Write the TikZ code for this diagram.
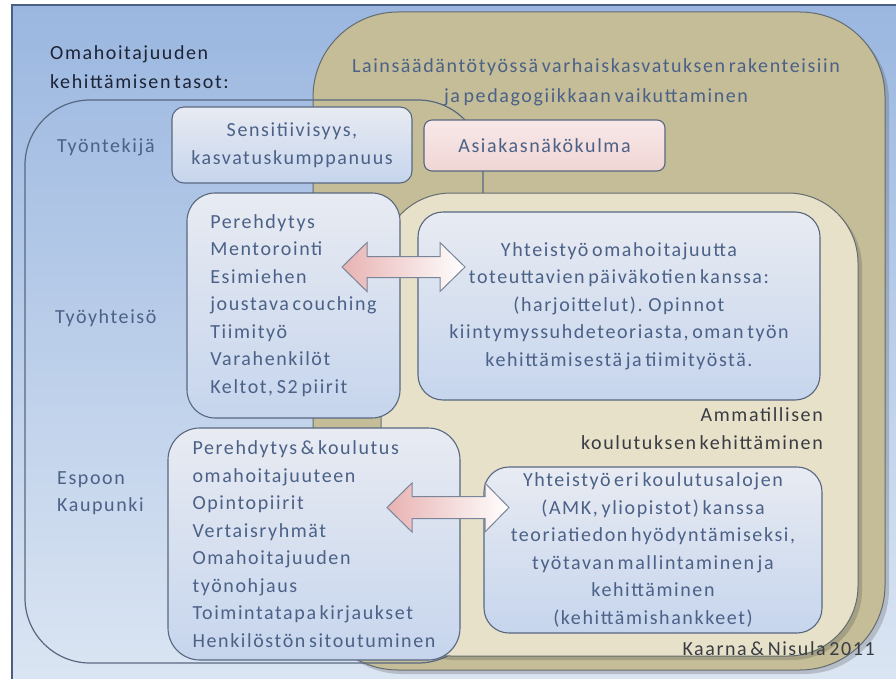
\documentclass[tikz,border=0pt]{standalone}
\usepackage{fontspec}
\setmainfont{Carlito}[LetterSpace=8,WordSpace=0.6]
\usetikzlibrary{shadows}

\definecolor{bgtop}{RGB}{155,183,224}
\definecolor{bgbot}{RGB}{220,230,243}
\definecolor{frameline}{RGB}{75,95,130}
\definecolor{tanfill}{RGB}{196,189,151}
\definecolor{tanline}{RGB}{100,108,112}
\definecolor{lighttan}{RGB}{230,225,200}
\definecolor{boxtop}{RGB}{232,235,242}
\definecolor{boxbot}{RGB}{198,213,237}
\definecolor{boxline}{RGB}{88,103,128}
\definecolor{pinktop}{RGB}{248,232,232}
\definecolor{pinkbot}{RGB}{240,214,213}
\definecolor{slate}{RGB}{75,97,135}
\definecolor{darktxt}{RGB}{28,36,54}
\definecolor{greytxt}{RGB}{58,60,68}
\definecolor{arrowpink}{RGB}{232,178,178}
\definecolor{arrowmid}{RGB}{236,231,226}

\tikzset{
  basefont/.style={font=\fontsize{20}{27.5}\selectfont},
  container/.style={draw=tanline, line width=1pt},
  levelbox/.style={draw=boxline, line width=1.1pt, top color=boxtop, bottom color=boxbot,
    inner sep=0pt, basefont, text=slate},
  pinkbox/.style={draw=boxline, line width=1.1pt, top color=pinktop, bottom color=pinkbot,
    inner sep=0pt, basefont, text=slate},
  blockarrow/.style={draw=boxline!80, line width=1pt, left color=arrowpink,
    middle color=arrowmid, right color=white},
  label/.style={basefont, inner sep=0pt},
  softshadow/.style={drop shadow={shadow xshift=4pt, shadow yshift=-4pt, opacity=0.25, fill=black!70}}
}

\begin{document}
\begin{tikzpicture}[x=1pt,y=-1pt]
\useasboundingbox (0,0) rectangle (896,679);

% slide frame with vertical blue gradient
\draw[frameline, line width=1.2pt, top color=bgtop, bottom color=bgbot] (12,5) rectangle (910,695);

% legislation area (tan)
\draw[container, fill=tanfill, softshadow, rounded corners=85pt] (313,12) rectangle (885,670);

% outline of the development levels
\draw[boxline, line width=1.2pt, rounded corners=65pt] (25,100) rectangle (483,663);

% vocational education area (light tan)
\draw[container, fill=lighttan, softshadow, rounded corners=70pt] (381,193) rectangle (858,656);

% level boxes
\node[levelbox, rounded corners=12pt, minimum width=240pt, minimum height=76pt, align=center]
  (sens) at (292,145) {Sensitiivisyys,\\kasvatuskumppanuus};
\node[pinkbox, rounded corners=8pt, minimum width=241pt, minimum height=51pt]
  (asiakas) at (544.5,145.5) {Asiakasnäkökulma};
\node[levelbox, rounded corners=28pt, minimum width=213pt, minimum height=225pt, align=left]
  (pereh) at (293.5,305.5) {Perehdytys\\Mentorointi\\Esimiehen\\joustava couching\\Tiimityö\\Varahenkilöt\\Keltot, S2 piirit};
\node[levelbox, rounded corners=25pt, minimum width=402pt, minimum height=188pt, align=center]
  (yht1) at (619,306) {Yhteistyö omahoitajuutta\\toteuttavien päiväkotien kanssa:\\(harjoittelut). Opinnot\\kiintymyssuhdeteoriasta, oman työn\\kehittämisestä ja tiimityöstä.};
\node[levelbox, rounded corners=32pt, minimum width=292pt, minimum height=232pt, align=left]
  (espoo) at (314,544) {Perehdytys \& koulutus\\omahoitajuuteen\\Opintopiirit\\Vertaisryhmät\\Omahoitajuuden\\työnohjaus\\Toimintatapa kirjaukset\\Henkilöstön sitoutuminen};
\node[levelbox, rounded corners=25pt, minimum width=338pt, minimum height=166pt, align=center]
  (yht2) at (653,550) {Yhteistyö eri koulutusalojen\\(AMK, yliopistot) kanssa\\teoriatiedon hyödyntämiseksi,\\työtavan mallintaminen ja\\kehittäminen\\(kehittämishankkeet)};

% two-way block arrows
\draw[blockarrow] (342,267) -- (367,242.5) -- (367,256.5) -- (440,256.5) -- (440,242.5)
  -- (465,267) -- (440,291.5) -- (440,277.5) -- (367,277.5) -- (367,291.5) -- cycle;
\draw[blockarrow] (387,507.5) -- (412,483) -- (412,496.5) -- (485,496.5) -- (485,483)
  -- (509,507.5) -- (485,532) -- (485,518.5) -- (412,518.5) -- (412,532) -- cycle;

% labels
\node[label, text=darktxt, anchor=west, align=left, font=\fontsize{20}{29}\selectfont]
  (title) at (50,67) {Omahoitajuuden\\kehittämisen tasot:};
\node[label, text=slate, anchor=west] (lvl1) at (57,147) {Työntekijä};
\node[label, text=slate, anchor=west] (lvl2) at (55,318) {Työyhteisö};
\node[label, text=slate, anchor=west, align=left] (lvl3) at (57,493) {Espoon\\Kaupunki};
\node[label, text=slate, align=center, font=\fontsize{20}{30}\selectfont]
  (laki) at (596,82) {Lainsäädäntötyössä varhaiskasvatuksen rakenteisiin\\ja pedagogiikkaan vaikuttaminen};
\node[label, text=greytxt, anchor=east, align=right, font=\fontsize{20}{28}\selectfont]
  (amm) at (823,429) {Ammatillisen\\koulutuksen kehittäminen};
\node[label, text=greytxt, anchor=east] (src) at (875,649) {Kaarna \& Nisula 2011};
\end{tikzpicture}
\end{document}
